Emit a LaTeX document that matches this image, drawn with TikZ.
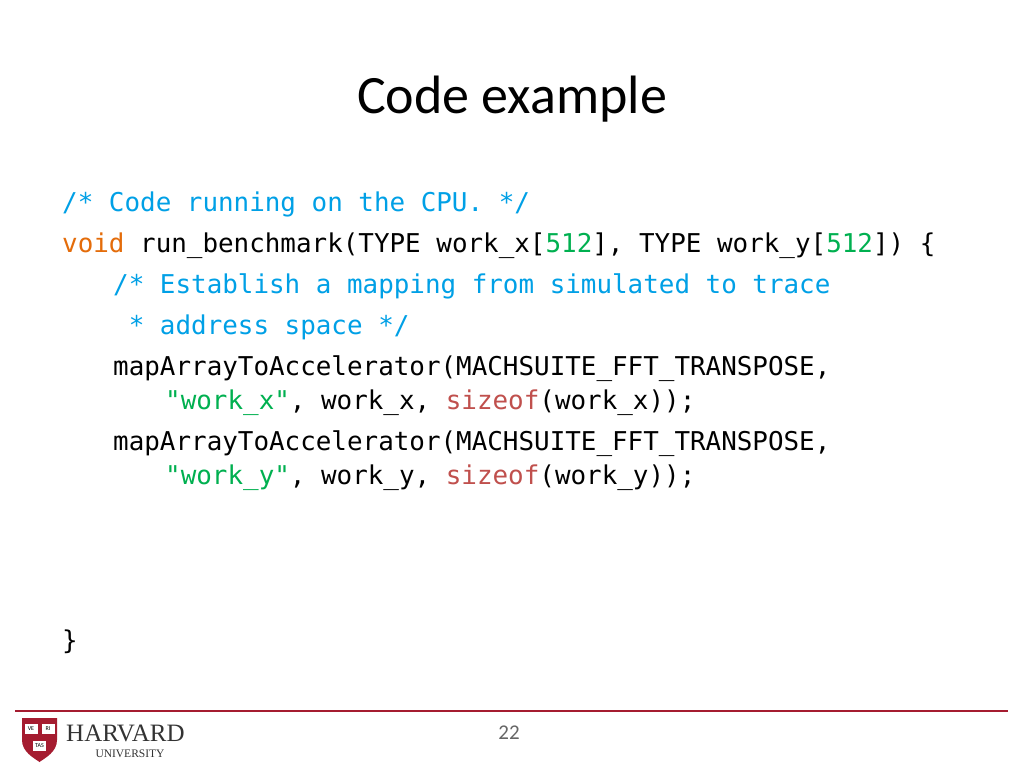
\documentclass[tikz,border=0pt]{standalone}
\usepackage{fontspec}
\setmainfont{Carlito}
\newfontfamily\codefont{DejaVu Sans Mono}
\newfontfamily\hvfont{Liberation Serif}
\definecolor{cmt}{RGB}{0,160,230}
\definecolor{kw}{RGB}{228,108,10}
\definecolor{str}{RGB}{0,176,80}
\definecolor{fn}{RGB}{192,80,77}
\definecolor{hred}{RGB}{165,28,48}
\begin{document}
\begin{tikzpicture}[x=1pt,y=-1pt,
  code/.style={anchor=base west,inner sep=0pt,font=\codefont\fontsize{25.9}{30}\selectfont}]
\useasboundingbox (0,0) rectangle (1024,768);
\fill[white] (0,0) rectangle (1024,768);
\node[font=\fontsize{54}{60}\selectfont,inner sep=0pt] (title) at (512,99) {Code example};
\node[code] (l1) at (62,211) {{\color{cmt}/* Code running on the CPU. */}};
\node[code] (l2) at (62,252) {{\color{kw}void} run\_benchmark(TYPE work\_x[{\color{str}512}], TYPE work\_y[{\color{str}512}]) \{};
\node[code] (l3) at (113,293) {{\color{cmt}/* Establish a mapping from simulated to trace}};
\node[code] (l4) at (113,334) {{\color{cmt}\ * address space */}};
\node[code] (l5) at (113,375) {mapArrayToAccelerator(MACHSUITE\_FFT\_TRANSPOSE,};
\node[code] (l6) at (165,409) {{\color{str}"work\_x"}, work\_x, {\color{fn}sizeof}(work\_x));};
\node[code] (l7) at (113,450) {mapArrayToAccelerator(MACHSUITE\_FFT\_TRANSPOSE,};
\node[code] (l8) at (165,484) {{\color{str}"work\_y"}, work\_y, {\color{fn}sizeof}(work\_y));};
\node[code] (l9) at (62,649) {\}};
\draw[hred,line width=2.5pt] (15,711) -- (1008,711);
% shield
\fill[hred] (22,718) -- (57,718) -- (57,740) .. controls (57,752) and (45,758) .. (39.5,762) .. controls (34,758) and (22,752) .. (22,740) -- cycle;
\foreach \cx/\cy/\t in {31/729/VE,48/729/RI,39.5/746/TAS}{
  \fill[white] (\cx-6.5,\cy-5) rectangle (\cx+6.5,\cy+5);
  \node[font=\fontsize{6}{6}\selectfont,inner sep=0pt] at (\cx,\cy) {\t};}
\node[font=\hvfont\fontsize{25}{26}\selectfont,anchor=base west,inner sep=0pt,text=black!80] (hv) at (66,741) {HARVARD};
\node[font=\hvfont\fontsize{11.5}{12}\selectfont,anchor=base,inner sep=0pt,text=black!80] (un) at (130,757) {UNIVERSITY};
\node[font=\fontsize{21}{21}\selectfont,text=black!60,inner sep=0pt] (pg) at (509,733) {22};
\end{tikzpicture}
\end{document}
